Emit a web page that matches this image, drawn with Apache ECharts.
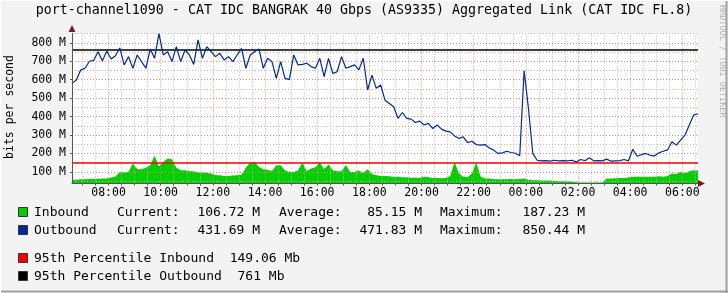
<!DOCTYPE html>
<html><head><meta charset="utf-8">
<script src="https://cdn.jsdelivr.net/npm/echarts@6/dist/echarts.min.js"></script>
<style>html,body{margin:0;padding:0;background:#f3f3f3}#c{width:728px;height:293px}</style>
</head><body><div id="c"></div><script>
const chartTitle = 'port-channel1090 - CAT IDC BANGRAK 40 Gbps (AS9335) Aggregated Link (CAT IDC FL.8)';
const yAxisName = 'bits per second';
const watermark = 'RRDTOOL / TOBI OETIKER';
const startMinute = 396;   // 06:36
const stepMinutes = 10;
const outbound = [
  580, 598, 652, 662, 700, 705, 752, 702, 755, 712, 730,
  772, 680, 725, 662, 734, 698, 662, 767, 716, 850,
  734, 752, 698, 779, 698, 761, 734, 683, 816, 716,
  779, 752, 725, 743, 707, 725, 698, 734, 770, 662,
  734, 752, 767, 662, 716, 698, 607, 698, 607, 600,
  734, 680, 683, 689, 671, 662, 716, 616, 716, 634,
  643, 725, 662, 671, 680, 653, 716, 544, 625, 553,
  571, 489, 471, 453, 390, 422, 390, 386, 368, 375,
  354, 363, 335, 354, 332, 321, 317, 295, 281, 290,
  259, 266, 248, 245, 248, 230, 218, 200, 203, 212,
  205, 201, 187, 650, 444, 200, 163, 160, 161, 158,
  163, 160, 161, 160, 163, 154, 167, 161, 176, 160,
  161, 160, 169, 158, 160, 161, 167, 160, 223, 185,
  194, 200, 190, 187, 203, 212, 219, 263, 245, 272,
  299, 354, 408, 415
];
const inbound = [
  58, 58, 60, 60, 61, 63, 63, 64, 64, 70, 74,
  100, 96, 100, 145, 114, 114, 122, 136, 187, 130,
  154, 172, 169, 122, 109, 109, 103, 103, 96, 96,
  94, 91, 82, 82, 78, 78, 80, 82, 85, 122,
  151, 154, 127, 114, 112, 103, 136, 136, 107, 100,
  100, 107, 151, 103, 118, 125, 151, 114, 140, 109,
  103, 103, 136, 100, 100, 107, 93, 114, 89, 82,
  78, 78, 76, 74, 73, 71, 71, 67, 69, 67,
  73, 71, 67, 67, 65, 67, 76, 154, 91, 73,
  71, 91, 151, 73, 64, 64, 60, 60, 60, 60,
  62, 60, 62, 64, 58, 55, 55, 53, 53, 53,
  51, 49, 49, 49, 47, 44, 42, 42, 42, 42,
  42, 42, 64, 64, 65, 67, 67, 69, 73, 73,
  73, 74, 73, 74, 76, 74, 78, 91, 89, 100,
  93, 103, 109, 107
];
const p95Inbound = 149.06;
const p95Outbound = 761;
const yMin = 37, yMax = 850.44;
const yTickLabels = ['100 M','200 M','300 M','400 M','500 M','600 M','700 M','800 M'];
const xTickLabels = ['08:00','10:00','12:00','14:00','16:00','18:00','20:00','22:00','00:00','02:00','04:00','06:00'];
const legendRows = [
  ['Inbound',  '106.72 M', '85.15 M',  '187.23 M'],
  ['Outbound', '431.69 M', '471.83 M', '850.44 M']
];
const legendColors = ['#00CF00', '#002A97'];
const pctRows = [
  ['95th Percentile Inbound  149.06 Mb', '#FF0000'],
  ['95th Percentile Outbound  761 Mb', '#000000']
];

const mono = 'DejaVu Sans Mono';
const endMinute = startMinute + 1440;
const times = outbound.map((_, i) => startMinute + i * stepMinutes);
const outData = outbound.map((v, i) => [times[i], v]);
const inData = inbound.map((v, i) => [times[i], v]);
const yTickValues = yTickLabels.map(s => parseFloat(s));
let prev = -1, add = 0;
const xTickValues = xTickLabels.map(s => {
  const [h, m] = s.split(':').map(Number);
  let v = h * 60 + m;
  if (v < prev) add = 1440;
  prev = v;
  return v + add;
});
const labelFor = {};
xTickLabels.forEach((s, i) => labelFor[xTickValues[i]] = s);

const majorColor = '#EE8888', minorColor = '#BDBDBD';
const gridLines = [];
for (let v = 50; v <= 850; v += 50) {
  if (v <= yMin) continue;
  gridLines.push({yAxis: v, lineStyle: {color: v % 100 === 0 ? majorColor : minorColor, type: [1, 2], width: 1}});
}
for (let m = 420; m < endMinute; m += 30) {
  gridLines.push({xAxis: m, lineStyle: {color: m % 120 === 0 ? majorColor : minorColor, type: [1, 2], width: 1}});
}
const minorTicks = [];
for (let m = 420; m < endMinute; m += 30) minorTicks.push(m);

const chart = echarts.init(document.getElementById('c'), null, {renderer: 'canvas'});

const graphics = [
  {type: 'text', left: 'center', top: 4, style: {text: chartTitle, font: '13.3px "' + mono + '"', fill: '#000'}},
  {type: 'text', x: 4, y: 107, rotation: Math.PI / 2, style: {text: yAxisName, font: '11.5px "' + mono + '"', fill: '#000', align: 'center', verticalAlign: 'top'}},
  {type: 'text', x: 722, y: 5, rotation: -Math.PI / 2, style: {text: watermark, font: '8.5px "' + mono + '"', fill: '#B0B0B0', align: 'left', verticalAlign: 'middle'}},
  {type: 'polygon', z: 100, shape: {points: [[698, 180], [698, 187], [705, 183.5]]}, style: {fill: '#7F1A1A'}},
  {type: 'polygon', z: 100, shape: {points: [[68.5, 32], [75.5, 32], [72, 25]]}, style: {fill: '#7F1A1A'}},
  {type: 'line', shape: {x1: 0, y1: 291.5, x2: 728, y2: 291.5}, style: {stroke: '#A0A0A0', lineWidth: 2}},
  {type: 'line', shape: {x1: 726.5, y1: 0, x2: 726.5, y2: 293}, style: {stroke: '#A0A0A0', lineWidth: 2}},
  {type: 'line', shape: {x1: 0, y1: 0.5, x2: 728, y2: 0.5}, style: {stroke: '#FFFFFF', lineWidth: 1}},
  {type: 'line', shape: {x1: 0.5, y1: 0, x2: 0.5, y2: 293}, style: {stroke: '#FFFFFF', lineWidth: 1}}
];
const legFont = '13px "' + mono + '"';
legendRows.forEach((r, k) => {
  const y = 213 + k * 18;
  graphics.push({type: 'rect', shape: {x: 18.5, y: y - 5.5, width: 9, height: 9}, style: {fill: legendColors[k], stroke: '#333', lineWidth: 1}});
  graphics.push({type: 'text', x: 34, y: y, style: {text: r[0], font: legFont, fill: '#000', verticalAlign: 'middle'}});
  graphics.push({type: 'text', x: 117, y: y, style: {text: 'Current:', font: legFont, fill: '#000', verticalAlign: 'middle'}});
  graphics.push({type: 'text', x: 260, y: y, style: {text: r[1], font: legFont, fill: '#000', align: 'right', verticalAlign: 'middle'}});
  graphics.push({type: 'text', x: 279, y: y, style: {text: 'Average:', font: legFont, fill: '#000', verticalAlign: 'middle'}});
  graphics.push({type: 'text', x: 422, y: y, style: {text: r[2], font: legFont, fill: '#000', align: 'right', verticalAlign: 'middle'}});
  graphics.push({type: 'text', x: 440, y: y, style: {text: 'Maximum:', font: legFont, fill: '#000', verticalAlign: 'middle'}});
  graphics.push({type: 'text', x: 585, y: y, style: {text: r[3], font: legFont, fill: '#000', align: 'right', verticalAlign: 'middle'}});
});
pctRows.forEach((r, k) => {
  const y = 259 + k * 18;
  graphics.push({type: 'rect', shape: {x: 18.5, y: y - 5.5, width: 9, height: 9}, style: {fill: r[1], stroke: '#333', lineWidth: 1}});
  graphics.push({type: 'text', x: 34, y: y, style: {text: r[0], font: legFont, fill: '#000', verticalAlign: 'middle'}});
});

chart.setOption({
  backgroundColor: '#F3F3F3',
  animation: false,
  grid: {left: 72, top: 33.5, width: 626, height: 150, show: true, backgroundColor: '#FFFFFF', borderWidth: 0, z: 0},
  xAxis: {
    type: 'value', min: startMinute, max: endMinute, z: 10,
    axisLine: {show: true, lineStyle: {color: '#555', width: 1}},
    axisTick: {show: true, customValues: minorTicks, length: 2, lineStyle: {color: '#555'}},
    axisLabel: {customValues: xTickValues, formatter: v => labelFor[v] || '', fontFamily: mono, fontSize: 11.5, color: '#000', margin: 4},
    splitLine: {show: false}
  },
  yAxis: {
    type: 'value', min: yMin, max: yMax, z: 10,
    axisLine: {show: true, lineStyle: {color: '#555', width: 1}},
    axisTick: {show: true, customValues: yTickValues, length: 2, lineStyle: {color: '#555'}},
    axisLabel: {customValues: yTickValues, formatter: v => yTickLabels[yTickValues.indexOf(v)] || '', fontFamily: mono, fontSize: 11.5, color: '#000', margin: 6},
    splitLine: {show: false}
  },
  graphic: graphics,
  series: [
    {type: 'line', name: 'grid', data: [], z: 2, silent: true,
     markLine: {silent: true, symbol: ['none', 'none'], label: {show: false}, animation: false,
       lineStyle: {type: 'dotted', width: 1, color: minorColor}, data: gridLines}},
    {type: 'line', name: 'Inbound', data: inData, z: 3, showSymbol: false, smooth: false,
     lineStyle: {width: 0, opacity: 0}, areaStyle: {color: '#00CF00', opacity: 1, origin: 'start'}},
    {type: 'line', name: 'pct', data: [], z: 4, silent: true,
     markLine: {silent: true, symbol: ['none', 'none'], label: {show: false}, animation: false,
       data: [
         {yAxis: p95Inbound, lineStyle: {color: '#FF0000', width: 1.5, type: 'solid', opacity: 1}},
         {yAxis: p95Outbound, lineStyle: {color: '#000000', width: 1.5, type: 'solid', opacity: 1}}
       ]}},
    {type: 'line', name: 'Outbound', data: outData, z: 5, showSymbol: false, smooth: false,
     lineStyle: {color: '#002A97', width: 1.2}}
  ]
});
</script></body></html>
